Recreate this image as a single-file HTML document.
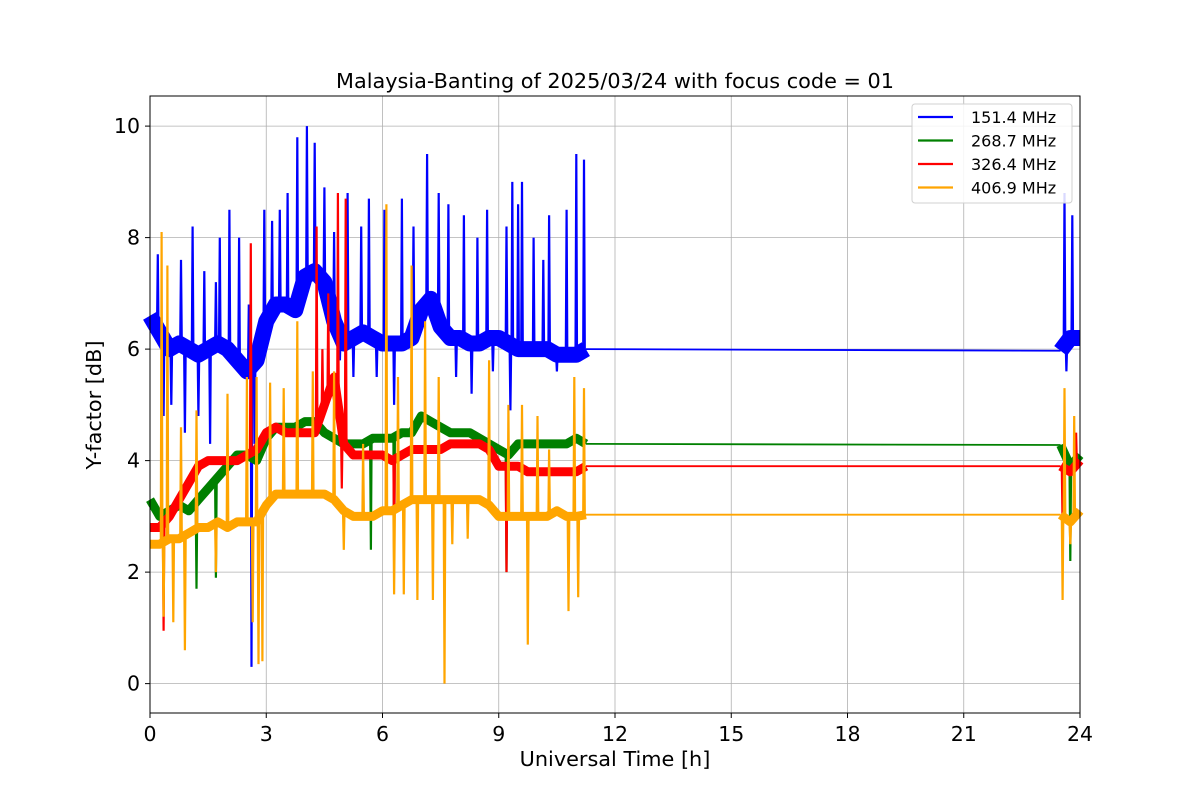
<!DOCTYPE html>
<html><head><meta charset="utf-8"><style>
body{margin:0;background:#fff;}
svg{display:block;font-family:"DejaVu Sans","Liberation Sans",sans-serif;}
</style></head><body>
<svg id="chart" width="1200" height="800" xmlns="http://www.w3.org/2000/svg"></svg>
<script>
const xTicks=[0,3,6,9,12,15,18,21,24];
const yTicks=[0,2,4,6,8,10];
const seriesNames=["151.4 MHz","268.7 MHz","326.4 MHz","406.9 MHz"];
const seriesColors=["#0000ff","#008000","#ff0000","#ffa500"];
const baseStep=0.25;
const tailTimes=[23.5,23.75,24.0];
const blueBase=[6.6,6.3,6.0,6.1,6.0,5.9,6.0,6.1,6.0,5.8,5.6,5.8,6.5,6.8,6.8,6.7,7.3,7.4,7.2,6.5,6.1,6.2,6.3,6.2,6.1,6.1,6.1,6.2,6.7,6.9,6.4,6.2,6.2,6.1,6.1,6.2,6.2,6.1,6.0,6.0,6.0,6.0,5.9,5.9,5.9,6.0];
const blueTail=[5.97,6.2,6.2];
const blueSpikes=[[0.2,7.7],[0.35,4.8],[0.55,5.0],[0.8,7.6],[0.9,4.5],[1.1,8.2],[1.25,4.8],[1.4,7.4],[1.55,4.3],[1.7,7.2],[1.8,8.0],[2.05,8.5],[2.3,8.0],[2.55,6.8],[2.62,0.3],[2.7,4.3],[2.95,8.5],[3.15,8.3],[3.35,8.5],[3.55,8.8],[3.8,9.8],[4.05,10.0],[4.25,9.7],[4.5,8.9],[4.75,8.1],[4.9,5.8],[5.1,8.8],[5.25,5.5],[5.45,8.2],[5.65,8.7],[5.85,5.5],[6.05,8.5],[6.3,5.0],[6.5,8.7],[6.8,8.2],[7.15,9.5],[7.45,8.8],[7.7,8.6],[7.9,5.5],[8.1,8.4],[8.3,5.2],[8.45,8.0],[8.7,8.5],[8.85,5.6],[9.2,8.2],[9.3,4.9],[9.35,9.0],[9.5,8.6],[9.6,9.0],[9.9,8.0],[10.15,7.6],[10.3,8.4],[10.5,5.6],[10.75,8.5],[11.0,9.5],[11.2,9.4],[23.6,8.8],[23.65,5.6],[23.8,8.4]];
const greenBase=[3.3,3.0,3.1,3.2,3.1,3.3,3.5,3.7,3.9,4.1,4.1,4.0,4.4,4.6,4.6,4.6,4.7,4.7,4.5,4.4,4.3,4.3,4.3,4.4,4.4,4.4,4.5,4.5,4.8,4.7,4.6,4.5,4.5,4.5,4.4,4.3,4.2,4.1,4.3,4.3,4.3,4.3,4.3,4.3,4.4,4.3];
const greenTail=[4.28,3.9,4.1];
const greenSpikes=[[1.2,1.7],[1.7,1.9],[5.7,2.4],[6.3,2.2],[9.2,2.0],[23.75,2.2]];
const redBase=[2.8,2.8,3.0,3.3,3.6,3.9,4.0,4.0,4.0,4.0,4.1,4.2,4.5,4.6,4.5,4.5,4.5,4.5,5.0,5.5,4.3,4.1,4.1,4.1,4.1,4.0,4.1,4.2,4.2,4.2,4.2,4.3,4.3,4.3,4.3,4.2,3.9,3.9,3.9,3.8,3.8,3.8,3.8,3.8,3.8,3.9];
const redTail=[3.9,3.8,4.0];
const redSpikes=[[0.35,0.95],[2.6,7.9],[4.3,8.2],[4.45,6.0],[4.6,7.0],[4.85,8.8],[4.95,3.5],[5.05,8.7],[6.3,2.4],[9.2,2.0],[23.55,2.8],[23.9,4.5]];
const orangeBase=[2.5,2.5,2.6,2.6,2.7,2.8,2.8,2.9,2.8,2.9,2.9,2.9,3.2,3.4,3.4,3.4,3.4,3.4,3.4,3.3,3.1,3.0,3.0,3.0,3.1,3.1,3.2,3.3,3.3,3.3,3.3,3.3,3.3,3.3,3.3,3.2,3.0,3.0,3.0,3.0,3.0,3.0,3.1,3.0,3.0,3.03];
const orangeTail=[3.03,2.9,3.1];
const orangeSpikes=[[0.3,8.1],[0.35,1.2],[0.45,7.5],[0.6,1.1],[0.8,4.6],[0.9,0.6],[1.2,4.9],[1.7,2.0],[2.0,5.2],[2.5,5.5],[2.65,1.1],[2.75,5.5],[2.8,0.35],[2.9,0.4],[3.1,5.4],[3.45,5.3],[3.8,6.5],[4.2,5.6],[4.75,5.6],[5.0,2.4],[5.5,4.3],[6.1,8.6],[6.3,1.6],[6.4,5.5],[6.55,1.6],[6.75,7.5],[6.9,1.5],[7.1,6.5],[7.3,1.5],[7.45,5.5],[7.6,0.0],[7.8,2.5],[8.2,2.6],[8.75,5.8],[9.25,5.0],[9.6,5.0],[9.75,0.7],[10.0,4.8],[10.3,4.2],[10.8,1.3],[10.95,5.5],[11.05,1.55],[11.2,5.3],[23.55,1.5],[23.6,5.3],[23.75,2.5],[23.85,4.8]];

const L=150,R=1080,T=96,B=713;
const yMin=-0.527,yMax=10.54;
const X=v=>L+v/24*(R-L);
const Y=v=>B-(v-yMin)/(yMax-yMin)*(B-T);
const NS="http://www.w3.org/2000/svg";
const svg=document.getElementById('chart');
function mk(tag,attrs,parent){const e=document.createElementNS(NS,tag);for(const k in attrs)e.setAttribute(k,attrs[k]);(parent||svg).appendChild(e);return e;}
const P=(t,v)=>X(t).toFixed(1)+','+Y(v).toFixed(1);

const grid=mk('g',{});


xTicks.forEach(t=>{const l=mk('line',{x1:X(t),x2:X(t),y1:T,y2:B,stroke:'#b0b0b0','stroke-width':0.8},grid);

});
yTicks.forEach(t=>{const l=mk('line',{x1:L,x2:R,y1:Y(t),y2:Y(t),stroke:'#b0b0b0','stroke-width':0.8},grid);

});

const bases=[blueBase,greenBase,redBase,orangeBase];
const tails=[blueTail,greenTail,redTail,orangeTail];
const spikes=[blueSpikes,greenSpikes,redSpikes,orangeSpikes];
const bandW=[16,9,9,9];
const tag=['series-151-4','series-268-7','series-326-4','series-406-9'];
function baseAt(s,t){
  if(t>=23.5){const a=tails[s];const f=(t-23.5)/0.25;const i=Math.min(Math.floor(f),a.length-2);return a[i]+(a[i+1]-a[i])*(f-i);}
  const a=bases[s];const f=t/baseStep;const i=Math.min(Math.floor(f),a.length-2);return a[i]+(a[i+1]-a[i])*(f-i);
}
bases.forEach((arr,s)=>{
  const g=mk('g',{});
  
  
  const c=seriesColors[s];
  const band=arr.map((v,i)=>P(i*baseStep,v));
  mk('polyline',{points:band.join(' '),fill:'none',stroke:c,'stroke-width':bandW[s],'stroke-linejoin':'round','stroke-linecap':'butt'},g);
  mk('polyline',{points:tails[s].map((v,i)=>P(tailTimes[i],v)).join(' '),fill:'none',stroke:c,'stroke-width':bandW[s],'stroke-linejoin':'round','stroke-linecap':'butt'},g);
  const lastT=(arr.length-1)*baseStep;
  mk('line',{x1:X(lastT),y1:Y(arr[arr.length-1]),x2:X(23.5),y2:Y(tails[s][0]),stroke:c,'stroke-width':1.8},g);
  spikes[s].forEach(([t,v])=>{const b=baseAt(s,t);
    const sp=mk('polyline',{points:[P(t-0.02,b),P(t,v),P(t+0.02,b)].join(' '),fill:'none',stroke:c,'stroke-width':2.2},g);
    
    });
});

const fr=mk('rect',{x:L,y:T,width:R-L,height:B-T,fill:'none',stroke:'#000','stroke-width':1});



xTicks.forEach(t=>{mk('line',{x1:X(t),x2:X(t),y1:B,y2:B+5,stroke:'#000'});
 const tx=mk('text',{x:X(t),y:B+28,'text-anchor':'middle','font-size':20.5});tx.textContent=t;
 
 });
yTicks.forEach(t=>{mk('line',{x1:L-5,x2:L,y1:Y(t),y2:Y(t),stroke:'#000'});
 const tx=mk('text',{x:L-10,y:Y(t)+7,'text-anchor':'end','font-size':20.5});tx.textContent=t;
 
 });

const title=mk('text',{x:615,y:88,'text-anchor':'middle','font-size':20.8});title.textContent='Malaysia-Banting of 2025/03/24 with focus code = 01';


const xl=mk('text',{x:615,y:766,'text-anchor':'middle','font-size':20.8});xl.textContent='Universal Time [h]';


const yl=mk('text',{x:0,y:0,'text-anchor':'middle','font-size':20.8,transform:'translate(101,405) rotate(-90)'});yl.textContent='Y-factor [dB]';



const lg=mk('g',{});


mk('rect',{x:912,y:104,width:160,height:99,rx:3,fill:'#fff','fill-opacity':0.85,stroke:'#d0d0d0'},lg);
seriesNames.forEach((n,i)=>{const y=117+i*23.5;
 const ln=mk('line',{x1:918,x2:953,y1:y,y2:y,stroke:seriesColors[i],'stroke-width':2.2},lg);
 
 
 const tx=mk('text',{x:971,y:y+6,'font-size':16},lg);tx.textContent=n;
 
 });
</script>
</body></html>
